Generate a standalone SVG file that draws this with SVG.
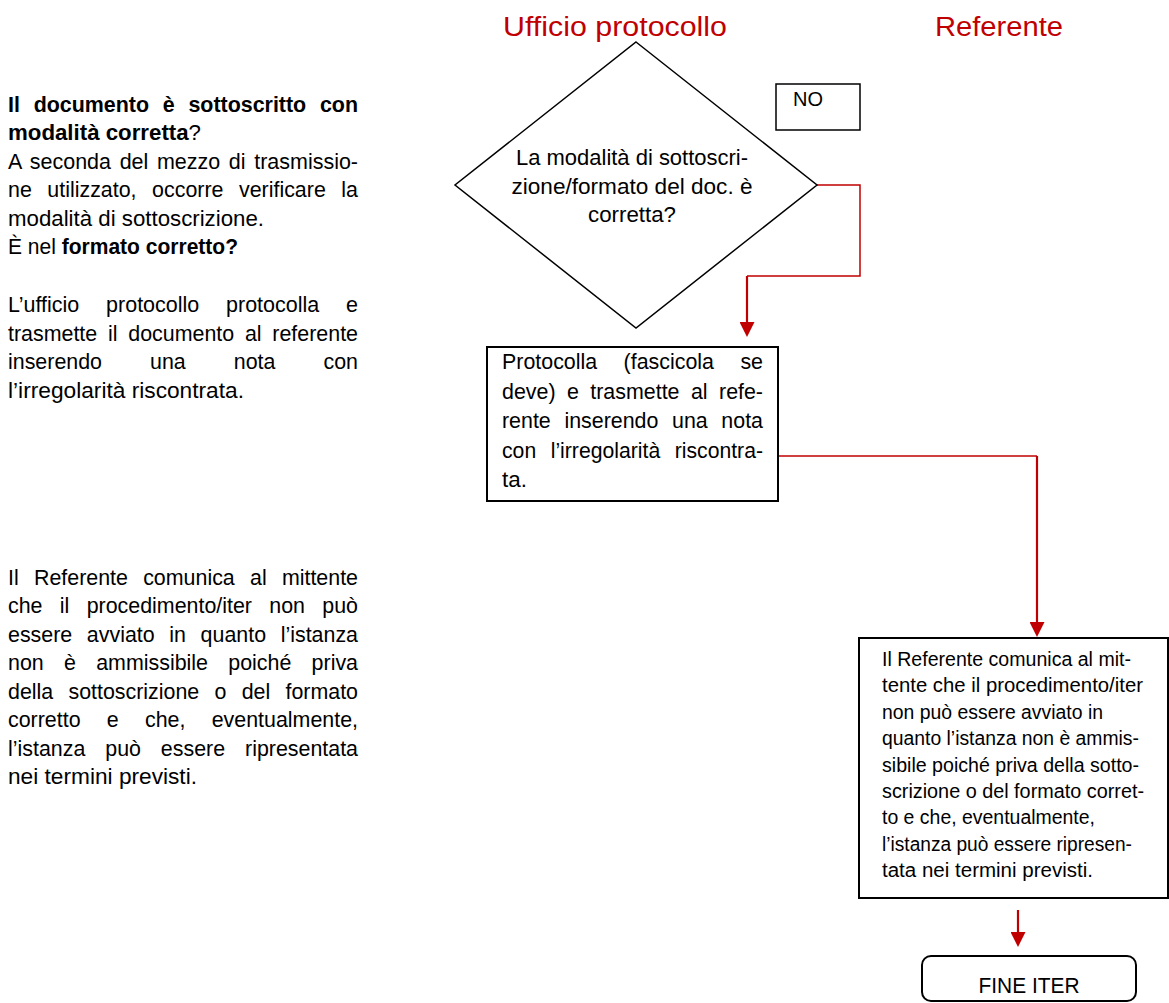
<svg xmlns="http://www.w3.org/2000/svg" width="1169" height="1003" viewBox="0 0 1169 1003">
  <style>
    .t { font-family: "Liberation Sans", Arial, sans-serif; fill: #000; }
    .b { font-size: 21.4px; }
    .s { font-size: 19.5px; }
    .h { font-size: 28.4px; fill: #c00000; }
    .bold { font-weight: bold; }
    .box { fill: #fff; stroke: #000; stroke-width: 2; }
    .thin { fill: #fff; stroke: #000; stroke-width: 1.5; }
    .wire { fill: none; stroke: #c00000; stroke-width: 1.5; }
    .drop { fill: none; stroke: #c00000; stroke-width: 2.2; }
  </style>
  <defs>
    <marker id="arrow" viewBox="0 0 15 15" refX="0" refY="7.5" markerWidth="15" markerHeight="15" markerUnits="userSpaceOnUse" orient="auto">
      <path d="M0,0 L15,7.5 L0,15 z" fill="#c00000"/>
    </marker>
  </defs>

  <rect width="1169" height="1003" fill="#fff"/>

  <!-- lane headings -->
  <g id="lanes">
    <text class="t h" x="615" y="36" text-anchor="middle" textLength="224" lengthAdjust="spacingAndGlyphs">Ufficio protocollo</text>
    <text class="t h" x="999" y="36" text-anchor="middle" textLength="128" lengthAdjust="spacingAndGlyphs">Referente</text>
  </g>

  <!-- side notes -->
  <g id="notes">
    <text class="t b bold" x="8" y="111.5" word-spacing="7.8" textLength="350" lengthAdjust="spacingAndGlyphs">Il documento è sottoscritto con</text>
    <text class="t b" x="8" y="140" textLength="193" lengthAdjust="spacingAndGlyphs"><tspan class="bold">modalità corretta</tspan>?</text>
    <text class="t b" x="8" y="168.5" word-spacing="2.7" textLength="350" lengthAdjust="spacingAndGlyphs">A seconda del mezzo di trasmissio-</text>
    <text class="t b" x="8" y="197" word-spacing="9.6" textLength="350" lengthAdjust="spacingAndGlyphs">ne utilizzato, occorre verificare la</text>
    <text class="t b" x="8" y="225.5" textLength="256" lengthAdjust="spacingAndGlyphs">modalità di sottoscrizione.</text>
    <text class="t b" x="8" y="254" textLength="230" lengthAdjust="spacingAndGlyphs">È nel <tspan class="bold">formato corretto?</tspan></text>

    <text class="t b" x="8" y="312" word-spacing="20.7" textLength="350" lengthAdjust="spacingAndGlyphs">L’ufficio protocollo protocolla e</text>
    <text class="t b" x="8" y="340.5" word-spacing="4.8" textLength="350" lengthAdjust="spacingAndGlyphs">trasmette il documento al referente</text>
    <text class="t b" x="8" y="369" word-spacing="42.1" textLength="350" lengthAdjust="spacingAndGlyphs">inserendo una nota con</text>
    <text class="t b" x="8" y="397.5" textLength="236" lengthAdjust="spacingAndGlyphs">l’irregolarità riscontrata.</text>

    <text class="t b" x="8" y="584.5" word-spacing="9.3" textLength="350" lengthAdjust="spacingAndGlyphs">Il Referente comunica al mittente</text>
    <text class="t b" x="8" y="613" word-spacing="11.4" textLength="350" lengthAdjust="spacingAndGlyphs">che il procedimento/iter non può</text>
    <text class="t b" x="8" y="641.5" word-spacing="8.7" textLength="350" lengthAdjust="spacingAndGlyphs">essere avviato in quanto l’istanza</text>
    <text class="t b" x="8" y="670" word-spacing="14.3" textLength="350" lengthAdjust="spacingAndGlyphs">non è ammissibile poiché priva</text>
    <text class="t b" x="8" y="698.5" word-spacing="9.3" textLength="350" lengthAdjust="spacingAndGlyphs">della sottoscrizione o del formato</text>
    <text class="t b" x="8" y="727" word-spacing="20.3" textLength="350" lengthAdjust="spacingAndGlyphs">corretto e che, eventualmente,</text>
    <text class="t b" x="8" y="755.5" word-spacing="14" textLength="350" lengthAdjust="spacingAndGlyphs">l’istanza può essere ripresentata</text>
    <text class="t b" x="8" y="784" textLength="189" lengthAdjust="spacingAndGlyphs">nei termini previsti.</text>
  </g>

  <!-- connectors -->
  <g id="connectors">
    <path class="wire" d="M817,185 H860 V276 H747"/>
    <path class="drop" d="M747,276 V322" marker-end="url(#arrow)"/>
    <path class="wire" d="M778,456 H1037"/>
    <path class="drop" d="M1037,456 V622" marker-end="url(#arrow)"/>
    <path class="drop" d="M1018,910 V932" marker-end="url(#arrow)"/>
  </g>

  <!-- decision: signature / format check -->
  <g id="check">
    <polygon class="thin" points="636,42 817,185 636,328 455,185"/>
    <text class="t b" x="632" y="165" text-anchor="middle" textLength="232" lengthAdjust="spacingAndGlyphs">La modalità di sottoscri-</text>
    <text class="t b" x="632" y="193.5" text-anchor="middle" textLength="241" lengthAdjust="spacingAndGlyphs">zione/formato del doc. è</text>
    <text class="t b" x="632" y="222" text-anchor="middle" textLength="88" lengthAdjust="spacingAndGlyphs">corretta?</text>
  </g>

  <!-- branch label -->
  <g id="label-no">
    <rect class="thin" x="776" y="84" width="84" height="46"/>
    <text class="t" x="793" y="106" font-size="20" textLength="30" lengthAdjust="spacingAndGlyphs">NO</text>
  </g>

  <!-- protocol and forward -->
  <g id="protocol">
    <rect class="box" x="487" y="347" width="291" height="154" stroke-width="2.4"/>
    <text class="t b" x="502" y="369" word-spacing="20.5" textLength="261" lengthAdjust="spacingAndGlyphs">Protocolla (fascicola se</text>
    <text class="t b" x="502" y="398.5" word-spacing="5.5" textLength="261" lengthAdjust="spacingAndGlyphs">deve) e trasmette al refe-</text>
    <text class="t b" x="502" y="428" word-spacing="7.7" textLength="261" lengthAdjust="spacingAndGlyphs">rente inserendo una nota</text>
    <text class="t b" x="502" y="457.5" word-spacing="8.7" textLength="261" lengthAdjust="spacingAndGlyphs">con l’irregolarità riscontra-</text>
    <text class="t b" x="502" y="487" textLength="25" lengthAdjust="spacingAndGlyphs">ta.</text>
  </g>

  <!-- referent notifies sender -->
  <g id="notify">
    <rect class="box" x="859" y="638" width="309" height="260"/>
    <text class="t s" x="882" y="666" textLength="249" lengthAdjust="spacingAndGlyphs">Il Referente comunica al mit-</text>
    <text class="t s" x="882" y="692.4" textLength="261" lengthAdjust="spacingAndGlyphs">tente che il procedimento/iter</text>
    <text class="t s" x="882" y="718.8" textLength="221" lengthAdjust="spacingAndGlyphs">non può essere avviato in</text>
    <text class="t s" x="882" y="745.2" textLength="257" lengthAdjust="spacingAndGlyphs">quanto l’istanza non è ammis-</text>
    <text class="t s" x="882" y="771.6" textLength="257" lengthAdjust="spacingAndGlyphs">sibile poiché priva della sotto-</text>
    <text class="t s" x="882" y="798" textLength="262" lengthAdjust="spacingAndGlyphs">scrizione o del formato corret-</text>
    <text class="t s" x="882" y="824.4" textLength="213" lengthAdjust="spacingAndGlyphs">to e che, eventualmente,</text>
    <text class="t s" x="882" y="850.8" textLength="250" lengthAdjust="spacingAndGlyphs">l’istanza può essere ripresen-</text>
    <text class="t s" x="882" y="877.2" textLength="211" lengthAdjust="spacingAndGlyphs">tata nei termini previsti.</text>
  </g>

  <!-- end of procedure -->
  <g id="end">
    <rect class="box" x="922" y="956" width="214" height="45" rx="9" ry="9"/>
    <text class="t" x="1029" y="993" font-size="22" text-anchor="middle" textLength="101" lengthAdjust="spacingAndGlyphs">FINE ITER</text>
  </g>
</svg>
